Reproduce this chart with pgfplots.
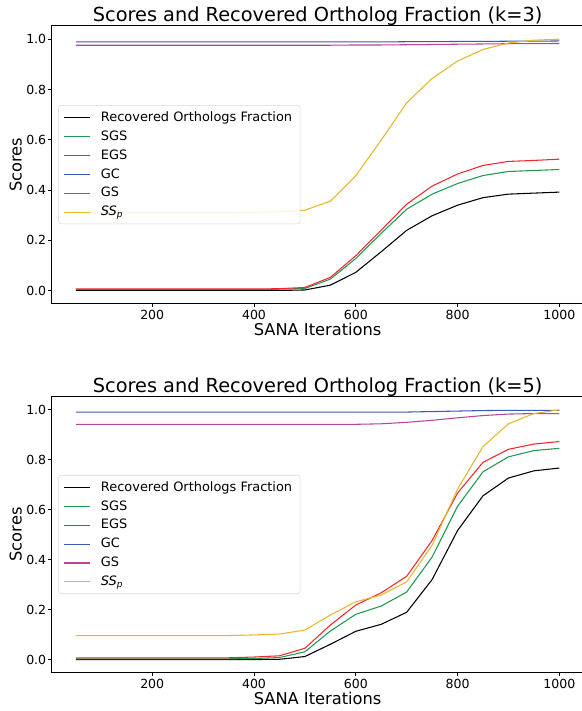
\documentclass[border=0pt]{standalone}
\usepackage{fontspec}
\setmainfont{DejaVu Sans}
\usepackage{pgfplots}
\usepackage{pgfplotstable}
\pgfplotsset{compat=1.18}

\definecolor{cRof}{HTML}{000000}
\definecolor{cSGS}{HTML}{1F9A4E}
\definecolor{cEGS}{HTML}{F0282E}
\definecolor{cGC}{HTML}{3A5BB5}
\definecolor{cGS}{HTML}{B8449E}
\definecolor{cSSp}{HTML}{E8B828}

\pgfplotstableread{
x rof sgs egs gc gs ssp
50 0.001 0.005 0.007 0.989 0.976 0.310
100 0.001 0.005 0.007 0.989 0.976 0.310
150 0.001 0.005 0.007 0.989 0.976 0.310
200 0.001 0.005 0.007 0.989 0.976 0.310
250 0.001 0.005 0.007 0.989 0.976 0.310
300 0.001 0.005 0.007 0.989 0.976 0.310
350 0.001 0.005 0.007 0.989 0.976 0.310
400 0.001 0.005 0.007 0.989 0.976 0.311
450 0.001 0.006 0.008 0.989 0.976 0.314
500 0.003 0.009 0.013 0.989 0.976 0.320
550 0.022 0.046 0.053 0.989 0.976 0.356
600 0.073 0.128 0.139 0.989 0.977 0.457
650 0.155 0.228 0.241 0.989 0.977 0.599
700 0.240 0.324 0.344 0.990 0.978 0.747
750 0.298 0.384 0.416 0.990 0.979 0.844
800 0.340 0.426 0.464 0.991 0.980 0.913
850 0.370 0.458 0.498 0.991 0.981 0.959
900 0.384 0.474 0.514 0.992 0.982 0.985
950 0.388 0.478 0.518 0.992 0.982 0.996
1000 0.392 0.482 0.523 0.993 0.983 1.000
}\dataA

\pgfplotstableread{
x rof sgs egs gc gs ssp
50 0.001 0.004 0.008 0.991 0.942 0.097
100 0.001 0.004 0.008 0.991 0.942 0.097
150 0.001 0.004 0.008 0.991 0.942 0.097
200 0.001 0.004 0.008 0.991 0.942 0.097
250 0.001 0.004 0.008 0.991 0.942 0.097
300 0.001 0.004 0.008 0.991 0.942 0.097
350 0.001 0.004 0.008 0.991 0.942 0.097
400 0.001 0.005 0.011 0.991 0.942 0.0995
450 0.002 0.009 0.016 0.991 0.942 0.103
500 0.013 0.032 0.046 0.991 0.942 0.119
550 0.062 0.115 0.139 0.991 0.942 0.179
600 0.114 0.182 0.219 0.991 0.942 0.232
650 0.142 0.215 0.268 0.991 0.944 0.259
700 0.190 0.271 0.334 0.991 0.950 0.312
750 0.321 0.411 0.477 0.993 0.958 0.458
800 0.517 0.614 0.667 0.995 0.968 0.683
850 0.656 0.752 0.790 0.997 0.977 0.853
900 0.727 0.812 0.842 0.998 0.983 0.944
950 0.756 0.837 0.863 0.998 0.985 0.985
1000 0.767 0.846 0.873 0.998 0.985 1.000
}\dataB

\pgfplotsset{
  myaxis/.style={
    scale only axis,
    width=398.85pt,
    xmin=2.5, xmax=1047.5,
    ymin=-0.05, ymax=1.0525,
    xtick={200,400,600,800,1000},
    ytick={0,0.2,0.4,0.6,0.8,1.0},
    xticklabel style={/pgf/number format/set thousands separator={}, yshift=1.2pt},
    yticklabel style={/pgf/number format/fixed, /pgf/number format/fixed zerofill, /pgf/number format/precision=1, xshift=2pt},
    /pgf/number format/assume math mode=true,
    tick align=outside,
    xtick pos=bottom, ytick pos=left,
    major tick length=2.6pt,
    every tick/.style={black, line width=0.6pt},
    axis line style={black, line width=0.75pt},
    tick label style={font=\fontsize{9.4}{11}\selectfont},
    every axis title shift=0pt,
    title style={at={(axis description cs:0.5,1)}, anchor=base, yshift=3pt, font=\fontsize{14.5}{17}\selectfont},
    xlabel style={at={(axis description cs:0.5,0)}, anchor=base, yshift=-24.5pt, font=\fontsize{12.2}{14}\selectfont},
    ylabel style={at={(axis description cs:-0.0567,0.5)}, anchor=base, font=\fontsize{12.2}{14}\selectfont},
    xlabel={SANA Iterations},
    ylabel={Scores},
    legend cell align=left,
    legend image code/.code={\draw[#1] (0pt,0pt) -- (19.5pt,0pt); \path (25pt,0pt);},
    legend style={at={(0.0124,0.5)}, anchor=west,
      draw=black!15, rounded corners=2pt, fill=white, fill opacity=0.85, text opacity=1,
      font=\fontsize{9.7}{11}\selectfont, row sep=1.5pt,
      inner xsep=4pt, inner ysep=2.5pt},
    every axis plot/.append style={line width=0.8pt, no markers},
  }
}

\begin{document}
\begin{tikzpicture}
\useasboundingbox (0,0) rectangle (436.5pt,533.25pt);
\begin{axis}[myaxis, at={(38.78pt,305.78pt)}, anchor=south west, height=207.98pt,
  title={Scores and Recovered Ortholog Fraction (k=3)}]
\addplot[cRof] table[x=x,y=rof] {\dataA};
\addlegendentry{Recovered Orthologs Fraction}
\addplot[cSGS] table[x=x,y=sgs] {\dataA};
\addlegendentry{SGS}
\addplot[cEGS] table[x=x,y=egs] {\dataA};
\addlegendentry{EGS}
\addplot[cGC] table[x=x,y=gc] {\dataA};
\addlegendentry{GC}
\addplot[cGS] table[x=x,y=gs] {\dataA};
\addlegendentry{GS}
\addplot[cSSp] table[x=x,y=ssp] {\dataA};
\addlegendentry{\textit{SS\textsubscript{p}}}
\end{axis}
\begin{axis}[myaxis, at={(38.78pt,29.03pt)}, anchor=south west, height=206.7pt,
  title={Scores and Recovered Ortholog Fraction (k=5)}]
\addplot[cRof] table[x=x,y=rof] {\dataB};
\addlegendentry{Recovered Orthologs Fraction}
\addplot[cSGS] table[x=x,y=sgs] {\dataB};
\addlegendentry{SGS}
\addplot[cEGS] table[x=x,y=egs] {\dataB};
\addlegendentry{EGS}
\addplot[cGC] table[x=x,y=gc] {\dataB};
\addlegendentry{GC}
\addplot[cGS] table[x=x,y=gs] {\dataB};
\addlegendentry{GS}
\addplot[cSSp] table[x=x,y=ssp] {\dataB};
\addlegendentry{\textit{SS\textsubscript{p}}}
\end{axis}
\end{tikzpicture}
\end{document}
